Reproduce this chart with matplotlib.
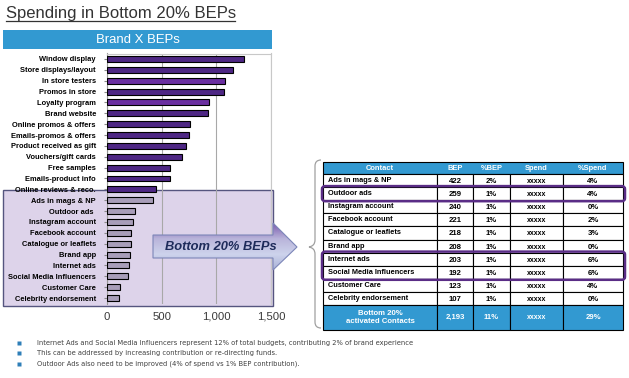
import matplotlib
matplotlib.use("Agg")
import matplotlib.pyplot as plt
import matplotlib.font_manager as fm
import numpy as np
from matplotlib.patches import Rectangle, Polygon, FancyBboxPatch, PathPatch
from matplotlib.path import Path
from matplotlib.colors import LinearSegmentedColormap

# ---------------- data ----------------
categories = ['Window display', 'Store displays/layout', 'In store testers', 'Promos in store',
              'Loyalty program', 'Brand website', 'Online promos & offers', 'Emails-promos & offers',
              'Product received as gift', 'Vouchers/gift cards', 'Free samples', 'Emails-product info',
              'Online reviews & reco.', 'Ads in mags & NP', 'Outdoor ads ', 'Instagram account',
              'Facebook account', 'Catalogue or leaflets', 'Brand app', 'Internet ads',
              'Social Media Influencers', 'Customer Care', 'Celebrity endorsement']
values = [1250, 1157, 1083, 1074, 935, 926, 759, 750, 722, 685, 574, 574, 444,
          422, 259, 240, 221, 218, 208, 203, 192, 123, 107]
n_bottom = 10
xticks = [0, 500, 1000, 1500]
xtick_labels = ['0', '500', '1,000', '1,500']

tbl_header = ['Contact', 'BEP', '%BEP', 'Spend', '%Spend']
tbl_contacts = ['Ads in mags & NP', 'Outdoor ads', 'Instagram account', 'Facebook account',
                'Catalogue or leaflets', 'Brand app', 'Internet ads', 'Social Media Influencers',
                'Customer Care', 'Celebrity endorsement']
tbl_bep = ['422', '259', '240', '221', '218', '208', '203', '192', '123', '107']
tbl_pct_bep = ['2%', '1%', '1%', '1%', '1%', '1%', '1%', '1%', '1%', '1%']
tbl_spend = ['xxxxx'] * 10
tbl_pct_spend = ['4%', '4%', '0%', '2%', '3%', '0%', '6%', '6%', '4%', '0%']
tbl_total = ['Bottom 20%\nactivated Contacts', '2,193', '11%', 'xxxxx', '29%']

bullets = ['Internet Ads and Social Media Influencers represent 12% of total budgets, contributing 2% of brand experience',
           'This can be addressed by increasing contribution or re-directing funds.',
           'Outdoor Ads also need to be improved (4% of spend vs 1% BEP contribution).']

# ---------------- figure ----------------
W, H = 629, 378
fig = plt.figure(figsize=(W / 100, H / 100), dpi=100)
fig.patch.set_facecolor('white')
AR = ['Liberation Sans', 'DejaVu Sans']
renderer = fig.canvas.get_renderer()

# look for a narrow/condensed regular face for the bullet text
narrow_fp = None
for f in fm.fontManager.ttflist:
    fn = f.fname.lower()
    if ('narrow' in fn or 'condensed' in fn) and 'bold' not in fn and 'oblique' not in fn \
            and 'italic' not in fn and 'mono' not in fn and 'serif' not in fn.replace('sans', ''):
        narrow_fp = fm.FontProperties(fname=f.fname)
        break

def fit(txts, target_w):
    t0 = txts[0]
    w = t0.get_window_extent(renderer).width
    fs = t0.get_fontsize() * target_w / w
    for t in txts:
        t.set_fontsize(fs)
    return fs

def fig_rect(l, t, r, b):
    return [l / W, 1 - b / H, (r - l) / W, (b - t) / H]

# background layer (lavender box)
bg = fig.add_axes([0, 0, 1, 1], zorder=-1)
bg.set_xlim(0, W); bg.set_ylim(H, 0); bg.axis('off')
bg.add_patch(Rectangle((3, 189.5), 270, 116.5, facecolor='#DDD3EA', edgecolor='#55557F', lw=1.0))

# bar chart
ax = fig.add_axes(fig_rect(107, 53.5, 271, 303.5), zorder=1)
ax.set_facecolor('none')
y = np.arange(len(categories))
colors = []
for i, c in enumerate(categories):
    if i >= len(categories) - n_bottom:
        colors.append('#A89DB9')
    elif c in ('In store testers', 'Loyalty program'):
        colors.append('#6A2FA0')
    else:
        colors.append('#4E2784')
ax.barh(y, values, height=0.55, color=colors, edgecolor='black', linewidth=0.8, zorder=3)
ax.set_ylim(len(categories) - 0.5, -0.5)
ax.set_xlim(0, 1500)
ax.set_xticks(xticks)
ax.set_xticklabels(xtick_labels, fontsize=8.2, family=AR, color='#3A3A3A')
ax.set_yticks(y)
ylabs = ax.set_yticklabels(categories, fontsize=5.6, family=AR, fontweight='bold', color='black')
ax.tick_params(axis='y', length=2, color='#888888', pad=6)
ax.tick_params(axis='x', length=0, pad=6)
ax.grid(axis='x', color='#A8A8A8', lw=0.8, zorder=0)
for s in ('top', 'right'):
    ax.spines[s].set_color('#C8C8C8'); ax.spines[s].set_linewidth(0.8)
ax.spines['left'].set_color('#999999'); ax.spines['left'].set_linewidth(0.8)
ax.spines['bottom'].set_visible(False)
fit([ylabs[categories.index('Social Media Influencers')]] + list(ylabs), 87)

# overlay layer
ov = fig.add_axes([0, 0, 1, 1], zorder=3)
ov.set_xlim(0, W); ov.set_ylim(H, 0); ov.axis('off'); ov.set_facecolor('none')

# title with underline
t = ov.text(6, 18, 'Spending in Bottom 20% BEPs', fontsize=12, family=AR, color='#333333',
            ha='left', va='baseline')
fit([t], 229)
ov.plot([6, 235], [20.5, 20.5], color='#333333', lw=0.9)

# header bar
ov.add_patch(Rectangle((3, 30), 269, 19, facecolor='#3299D1', edgecolor='none'))
ht = ov.text(137.5, 40, 'Brand X BEPs', fontsize=9.5, family=AR, color='white', ha='center', va='center')
fit([ht], 84)

# arrow with gradient
arrow_pts = np.array([[153, 235], [273, 235], [273, 223], [297, 247], [273, 270], [273, 258], [153, 258]])
poly = Polygon(arrow_pts, closed=True, facecolor='none', edgecolor='#7C86B8', lw=0.8, zorder=5)
ov.add_patch(poly)
cmap = LinearSegmentedColormap.from_list('g', ['#7B5BAE', '#B9B4DA', '#CDD3EC', '#A9B1D6'])
grad = np.linspace(0, 1, 100).reshape(-1, 1)
im = ov.imshow(grad, cmap=cmap, extent=[153, 297, 270, 223], aspect='auto', zorder=4)
im.set_clip_path(poly)
ov.set_xlim(0, W); ov.set_ylim(H, 0)
at = ov.text(221, 247, 'Bottom 20% BEPs', fontsize=9.5, family=AR, fontweight='bold', style='italic',
             color='#1E2B5A', ha='center', va='center', zorder=6)
fit([at], 112)

# brace
brace = Path([(321, 160), (315, 160), (315, 166), (315, 240), (315, 246), (309, 247),
              (315, 248), (315, 254), (315, 322), (315, 328), (321, 328)],
             [Path.MOVETO, Path.CURVE3, Path.CURVE3, Path.LINETO, Path.CURVE3, Path.CURVE3,
              Path.CURVE3, Path.CURVE3, Path.LINETO, Path.CURVE3, Path.CURVE3])
ov.add_patch(PathPatch(brace, facecolor='none', edgecolor='#A0A0A0', lw=0.9))

# table
cols = [323, 437, 473, 510, 563, 623]
top = 162
hdr_h = 12
row_h = 13.1
total_h = 25
blue = '#3299D1'
ov.add_patch(Rectangle((cols[0], top), cols[-1] - cols[0], hdr_h, facecolor=blue, edgecolor='black', lw=0.8))
for j, h in enumerate(tbl_header):
    ov.text((cols[j] + cols[j + 1]) / 2, top + hdr_h / 2, h, fontsize=5.4, family=AR, fontweight='bold',
            color='white', ha='center', va='center')
rows = list(zip(tbl_contacts, tbl_bep, tbl_pct_bep, tbl_spend, tbl_pct_spend))
name_txts = []
for i, r in enumerate(rows):
    y0 = top + hdr_h + i * row_h
    for j, v in enumerate(r):
        ov.add_patch(Rectangle((cols[j], y0), cols[j + 1] - cols[j], row_h, facecolor='white',
                               edgecolor='black', lw=0.8))
        if j == 0:
            name_txts.append(ov.text(cols[0] + 5, y0 + row_h / 2, v, fontsize=5.8, family=AR,
                                     fontweight='bold', color='black', ha='left', va='center'))
        else:
            ov.text((cols[j] + cols[j + 1]) / 2, y0 + row_h / 2 + 1, v, fontsize=5.6 if v != 'xxxxx' else 5.0,
                    family=AR, fontweight='bold', color='black', ha='center', va='center')
fit([name_txts[tbl_contacts.index('Social Media Influencers')]] + name_txts, 86)
y0 = top + hdr_h + len(rows) * row_h
for j, v in enumerate(tbl_total):
    ov.add_patch(Rectangle((cols[j], y0), cols[j + 1] - cols[j], total_h, facecolor=blue,
                           edgecolor='black', lw=0.8))
    ov.text((cols[j] + cols[j + 1]) / 2, y0 + total_h / 2, v, fontsize=5.6 if v != 'xxxxx' else 5.0,
            family=AR, fontweight='bold', color='white', ha='center', va='center', linespacing=1.1)

# highlight outlines
def hl(r0, r1):
    ya = top + hdr_h + r0 * row_h
    yb = top + hdr_h + r1 * row_h
    ov.add_patch(FancyBboxPatch((cols[0] - 1, ya - 1), cols[-1] - cols[0] + 3, yb - ya + 2,
                                boxstyle='round,pad=0,rounding_size=3', facecolor='none',
                                edgecolor='#5A2D86', lw=1.8, zorder=7))
hl(1, 2)
hl(6, 8)

# bullets
btxts = []
for k, b in enumerate(bullets):
    yy = 343 + k * 10.3
    ov.plot([19], [yy], marker='s', ms=2.2, color='#2F7FB8', mec='none')
    if narrow_fp is not None:
        btxts.append(ov.text(37, yy, b, fontproperties=narrow_fp, fontsize=7.0, color='#404040',
                             ha='left', va='center'))
    else:
        btxts.append(ov.text(37, yy, b, fontsize=7.0, family=AR, color='#404040', ha='left', va='center'))
fs = fit(btxts, 376)
if narrow_fp is None:
    # regular-width face: allow a little more size for legibility, like the narrow original
    for tt in btxts:
        tt.set_fontsize(fs * 1.06)

fig.savefig('out.png', dpi=100)
